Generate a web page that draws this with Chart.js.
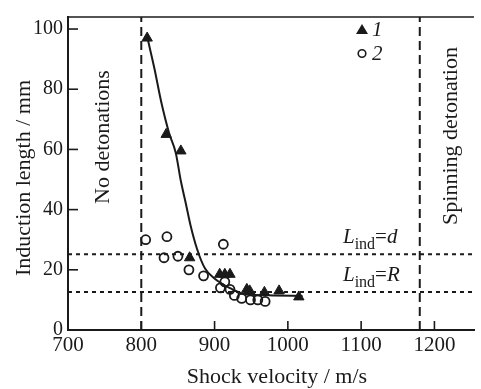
<!DOCTYPE html>
<html>
<head>
<meta charset="utf-8">
<script src="https://cdn.jsdelivr.net/npm/chart.js@4.4.1/dist/chart.umd.min.js"></script>
<style>
  html, body { margin: 0; padding: 0; background: #fff; }
  canvas { display: block; }
</style>
</head>
<body>
<canvas id="grafico" width="481" height="389"></canvas>
<script>
// Serie 1 (triángulos) y serie 2 (círculos)
const velocidad1 = [808, 834, 854, 866, 907, 914, 921, 944, 948, 968, 988, 1015];
const longitud1 = [97, 65, 59.5, 24, 18.5, 18.5, 18.5, 13.5, 13, 12.5, 13, 11];
const velocidad2 = [806, 835, 831, 850, 865, 885, 912, 908, 914, 921, 927, 937, 949, 959, 969];
const longitud2 = [30, 31, 24, 24.5, 20, 18, 28.5, 14, 16, 13.5, 11.5, 10.5, 10, 10, 9.5];

// Curva de ajuste
const ajusteX = [808, 818, 827, 838, 847, 854, 861, 867, 876, 887, 899, 921, 943, 980, 1020];
const ajusteY = [97.5, 86.8, 76, 65.4, 58.9, 49.5, 41.8, 35, 27, 20.4, 17.3, 13.9, 11.8, 11.5, 11.3];

// Límites y líneas de referencia
const limiteIzq = 800;
const limiteDer = 1180;
const lineaD = 25.2;
const lineaR = 12.6;

const ticksX = [700, 800, 900, 1000, 1100, 1200];
const ticksY = [0, 20, 40, 60, 80, 100];
const rangoX = [700, 1254];
const rangoY = [0, 104];

const negro = '#1a1a1a';
const fuente = '"Liberation Serif", "Times New Roman", serif';

Chart.defaults.font.family = fuente;
Chart.defaults.color = negro;

function puntos(xs, ys) {
    return xs.map((v, i) => ({ x: v, y: ys[i] }));
}

// Dibuja textos, marcas hacia adentro y leyenda
const extras = {
    id: 'extras',
    afterDraw(chart) {
        const { ctx, chartArea, scales: { x, y } } = chart;
        ctx.save();
        ctx.strokeStyle = negro;
        ctx.fillStyle = negro;
        ctx.lineWidth = 1.6;

        // marco superior
        ctx.beginPath();
        ctx.moveTo(chartArea.left, chartArea.top);
        ctx.lineTo(chartArea.right, chartArea.top);
        ctx.stroke();

        // marcas de los ejes (hacia adentro)
        ticksX.forEach(v => {
            const px = x.getPixelForValue(v);
            ctx.beginPath();
            ctx.moveTo(px, chartArea.bottom);
            ctx.lineTo(px, chartArea.bottom - 9);
            ctx.stroke();
        });
        ticksY.forEach(v => {
            const py = y.getPixelForValue(v);
            ctx.beginPath();
            ctx.moveTo(chartArea.left, py);
            ctx.lineTo(chartArea.left + 10, py);
            ctx.stroke();
        });

        // textos verticales
        function vertical(texto, cx, cy, tam) {
            ctx.save();
            ctx.translate(cx, cy);
            ctx.rotate(-Math.PI / 2);
            ctx.font = tam + 'px ' + fuente;
            ctx.textAlign = 'center';
            ctx.textBaseline = 'middle';
            ctx.fillText(texto, 0, 0);
            ctx.restore();
        }
        vertical('Induction length / mm', 24, 178, 22);
        vertical('No detonations', x.getPixelForValue(limiteIzq) - 38, 137, 22);
        vertical('Spinning detonation', x.getPixelForValue(limiteDer) + 31, 136, 22);

        // título del eje x
        ctx.font = '22px ' + fuente;
        ctx.textAlign = 'center';
        ctx.textBaseline = 'middle';
        ctx.fillText('Shock velocity / m/s', 277, 377);

        // etiquetas L_ind
        function etiqueta(letra, valor) {
            let px = 343;
            const py = y.getPixelForValue(valor) - 11;
            ctx.textAlign = 'left';
            ctx.textBaseline = 'alphabetic';
            ctx.font = 'italic 21px ' + fuente;
            ctx.fillText('L', px, py);
            px += ctx.measureText('L').width;
            ctx.font = '16px ' + fuente;
            ctx.fillText('ind', px, py + 6);
            px += ctx.measureText('ind').width;
            ctx.font = '21px ' + fuente;
            ctx.fillText('=', px, py);
            px += ctx.measureText('=').width;
            ctx.font = 'italic 21px ' + fuente;
            ctx.fillText(letra, px, py);
        }
        etiqueta('d', lineaD);
        etiqueta('R', lineaR);

        // leyenda
        ctx.beginPath();
        ctx.moveTo(362, 24);
        ctx.lineTo(368, 34);
        ctx.lineTo(356, 34);
        ctx.closePath();
        ctx.fill();
        ctx.beginPath();
        ctx.arc(362, 53.5, 3.8, 0, Math.PI * 2);
        ctx.lineWidth = 1.6;
        ctx.stroke();
        ctx.font = 'italic 21px ' + fuente;
        ctx.textAlign = 'left';
        ctx.textBaseline = 'middle';
        ctx.fillText('1', 372, 30);
        ctx.fillText('2', 372, 54);
        ctx.restore();
    }
};

const ctx = document.getElementById('grafico').getContext('2d');

new Chart(ctx, {
    type: 'scatter',
    data: {
        datasets: [
            {
                label: 'ajuste',
                type: 'line',
                data: puntos(ajusteX, ajusteY),
                borderColor: negro,
                borderWidth: 2,
                pointRadius: 0,
                cubicInterpolationMode: 'monotone',
                fill: false
            },
            {
                label: 'izq',
                type: 'line',
                data: [{ x: limiteIzq, y: rangoY[0] }, { x: limiteIzq, y: rangoY[1] }],
                borderColor: negro,
                borderWidth: 2,
                borderDash: [9, 5],
                pointRadius: 0
            },
            {
                label: 'der',
                type: 'line',
                data: [{ x: limiteDer, y: rangoY[0] }, { x: limiteDer, y: rangoY[1] }],
                borderColor: negro,
                borderWidth: 2,
                borderDash: [9, 5],
                pointRadius: 0
            },
            {
                label: 'Lind=d',
                type: 'line',
                data: [{ x: rangoX[0], y: lineaD }, { x: rangoX[1], y: lineaD }],
                borderColor: negro,
                borderWidth: 2,
                borderDash: [4, 4],
                pointRadius: 0
            },
            {
                label: 'Lind=R',
                type: 'line',
                data: [{ x: rangoX[0], y: lineaR }, { x: rangoX[1], y: lineaR }],
                borderColor: negro,
                borderWidth: 2,
                borderDash: [4, 4],
                pointRadius: 0
            },
            {
                label: '1',
                data: puntos(velocidad1, longitud1),
                pointStyle: 'triangle',
                pointRadius: 6,
                backgroundColor: negro,
                borderColor: negro,
                borderWidth: 1
            },
            {
                label: '2',
                data: puntos(velocidad2, longitud2),
                pointStyle: 'circle',
                pointRadius: 4.5,
                backgroundColor: 'rgba(255,255,255,0)',
                borderColor: negro,
                borderWidth: 1.8
            }
        ]
    },
    options: {
        responsive: false,
        animation: false,
        layout: { padding: { top: 6, right: 0, left: 0, bottom: 0 } },
        plugins: {
            legend: { display: false },
            tooltip: { enabled: false }
        },
        scales: {
            x: {
                type: 'linear',
                min: rangoX[0],
                max: rangoX[1],
                grid: { display: false, drawTicks: false },
                border: { display: true, color: negro, width: 2 },
                ticks: {
                    font: { size: 21 }, color: negro, padding: 3, maxRotation: 0,
                    callback: v => String(v)
                },
                afterBuildTicks: scale => { scale.ticks = ticksX.map(v => ({ value: v })); },
                afterFit: scale => { scale.height = 59; }
            },
            y: {
                min: rangoY[0],
                max: rangoY[1],
                grid: { display: false, drawTicks: false },
                border: { display: true, color: negro, width: 2 },
                ticks: {
                    font: { size: 20 }, color: negro, padding: 5,
                    callback: v => String(v)
                },
                afterBuildTicks: scale => { scale.ticks = ticksY.map(v => ({ value: v })); },
                afterFit: scale => { scale.width = 68; }
            }
        }
    },
    plugins: [extras]
});
</script>
</body>
</html>
